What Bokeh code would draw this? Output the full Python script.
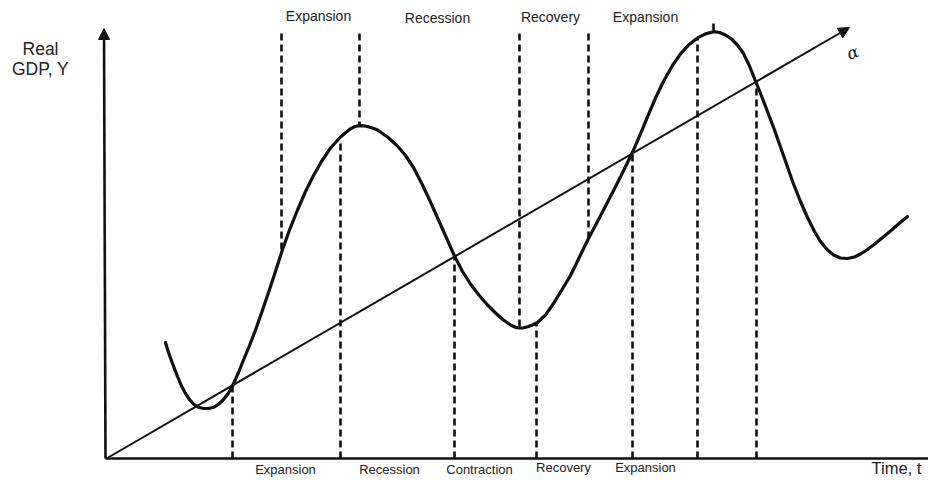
from bokeh.plotting import figure
from bokeh.models import Range1d, Arrow, NormalHead
from bokeh.core.properties import value
from bokeh.embed import file_html
from bokeh.resources import INLINE

# Real GDP path (time t, real GDP Y)
curve_t = [5.9, 6.2, 6.6, 7.1, 7.5, 7.9, 8.3, 8.7, 9.2, 9.7, 10.2, 10.7, 11.2, 11.7, 12.2,
           12.6, 13.2, 13.7, 14.3, 14.9, 15.5, 16.1, 16.8, 17.6, 18.3, 19.1, 19.9, 20.7,
           21.5, 22.4, 23.4, 24.3, 24.8, 25.2, 25.6, 26.1, 26.6, 27.1, 28.1, 29.1, 29.9,
           30.7, 31.6, 32.4, 33.2, 34.0, 34.8, 35.6, 36.4, 37.2, 38.1, 38.9, 39.7, 40.5,
           40.9, 41.3, 41.7, 42.2, 42.7, 43.1, 43.9, 44.7, 45.5, 46.4, 47.3, 48.2, 49.1,
           50.0, 50.8, 51.7, 52.6, 53.4, 54.1, 54.9, 55.7, 56.6, 57.4, 58.2, 59.1, 59.9,
           60.7, 61.3, 61.9, 62.5, 63.1, 63.7, 64.3, 64.9, 65.5, 66.1, 66.8, 67.4, 68.1,
           68.7, 69.4, 70.1, 70.8, 71.4, 72.1, 72.7, 73.4, 74.1, 74.8, 75.4, 76.1, 76.7,
           77.5, 78.4, 79.2, 80.1]
curve_y = [11.6, 10.6, 9.5, 8.2, 7.25, 6.5, 5.9, 5.45, 5.12, 5.0, 5.0, 5.12, 5.42, 5.9, 6.55,
           7.25, 8.6, 9.85, 11.3, 12.85, 14.55, 16.3, 18.4, 20.9, 22.85, 24.85, 26.7, 28.3,
           29.7, 31.05, 32.15, 32.9, 33.18, 33.27, 33.28, 33.2, 33.05, 32.85, 32.15, 31.25, 30.3,
           29.1, 27.35, 25.65, 23.85, 22.05, 20.25, 18.7, 17.45, 16.4, 15.35, 14.55, 13.85, 13.3,
           13.12, 13.05, 13.07, 13.2, 13.4, 13.6, 14.35, 15.5, 16.8, 18.3, 20.15, 22.0, 23.71,
           25.42, 26.98, 28.78, 30.62, 32.46, 34.17, 36.05, 37.73, 39.3, 40.46, 41.34, 42.06, 42.46,
           42.68, 42.6, 42.35, 41.95, 41.35, 40.5, 39.25, 37.75, 36.25, 34.7, 32.85, 31.15, 29.15,
           27.45, 25.7, 24.1, 22.7, 21.7, 20.85, 20.35, 20.05, 20.0, 20.15, 20.45, 20.9, 21.35,
           22.0, 22.75, 23.45, 24.2]

# trend line a
trend_t = [0.0, 74.3]
trend_y = [0.0, 43.1]

# axes extents
axis_t_max = 84.0
axis_y_max = 43.0

# dashed phase boundaries
cut_t = [12.6, 17.5, 23.4, 25.3, 34.8, 41.3, 43.0, 48.2, 52.6, 59.1, 65.0, 60.7]
cut_from = [0.0, 42.5, 0.0, 42.5, 0.0, 42.5, 0.0, 42.5, 0.0, 0.0, 0.0, 43.5]
cut_to = [7.25, 20.9, 31.6, 33.3, 20.25, 13.05, 13.5, 22.0, 30.6, 42.0, 37.6, 42.7]

top_labels = ["Expansion", "Recession", "Recovery", "Expansion"]
top_t = [21.2, 33.1, 44.4, 53.9]
top_y = [44.3, 44.1, 44.2, 44.2]

bottom_labels = ["Expansion", "Recession", "Contraction", "Recovery", "Expansion"]
bottom_t = [17.9, 28.3, 37.3, 45.7, 53.9]
bottom_y = [-1.8, -1.8, -1.8, -1.6, -1.6]

FONT = "Liberation Sans"
INK = "#111111"
TXT = "#222222"

p = figure(width=928, height=477, output_backend="svg", toolbar_location=None,
           x_range=Range1d(-10.6, 82.2), y_range=Range1d(-1.9, 45.8),
           x_axis_type=None, y_axis_type=None, min_border=0)
p.grid.visible = False
p.outline_line_color = None
p.background_fill_color = "white"
p.border_fill_color = "white"

# dashed verticals
p.segment(x0=cut_t, y0=cut_from, x1=cut_t, y1=cut_to, line_color=INK,
          line_width=2.6, line_dash="7 4")

# x axis
p.line(x=[-0.1, axis_t_max], y=[0, 0], line_color=INK, line_width=2.6)
# y axis with arrow
p.add_layout(Arrow(x_start=-0.1, y_start=0, x_end=-0.25, y_end=axis_y_max,
                   line_color=INK, line_width=2.6,
                   end=NormalHead(size=11, fill_color=INK, line_color=INK)))
# trend line with arrow
p.add_layout(Arrow(x_start=trend_t[0], y_start=trend_y[0], x_end=trend_t[1], y_end=trend_y[1],
                   line_color=INK, line_width=2.0,
                   end=NormalHead(size=11, fill_color=INK, line_color=INK)))

# GDP curve
p.line(x=curve_t, y=curve_y, line_color=INK, line_width=3.2, line_join="round", line_cap="round")

# labels
p.text(x=top_t, y=top_y, text=top_labels, text_font=value(FONT), text_font_size="14px",
       text_align="center", text_baseline="middle", text_color=TXT)
p.text(x=bottom_t, y=bottom_y, text=bottom_labels, text_font=value(FONT), text_font_size="13px",
       text_align="center", text_baseline="bottom", text_color=TXT)
p.text(x=[79.0], y=[-1.8], text=["Time, t"], text_font=value(FONT), text_font_size="16.5px",
       text_align="center", text_baseline="bottom", text_color=TXT)
p.text(x=[-6.6, -6.6], y=[41.0, 39.0], text=["Real", "GDP, Y"], text_font=value(FONT),
       text_font_size="17.5px", text_align="center", text_baseline="middle", text_color=TXT)
p.text(x=[74.6], y=[40.6], text=["α"], text_font=value("DejaVu Serif"), text_font_style="italic",
       text_font_size="17px", text_align="center", text_baseline="middle", text_color=TXT,
       angle=0.35)

open("out.html", "w").write(file_html(p, INLINE))
